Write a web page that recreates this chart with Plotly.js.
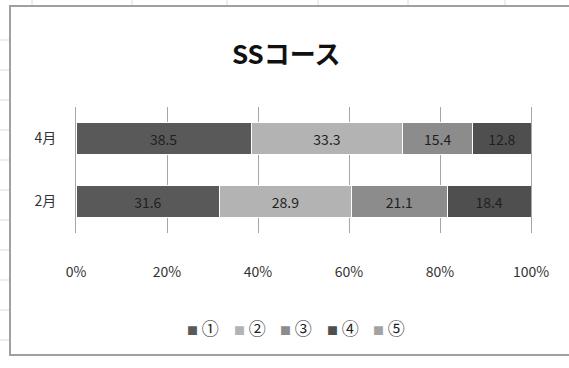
<!DOCTYPE html>
<html>
<head>
<meta charset="utf-8">
<script src="https://cdn.plot.ly/plotly-3.0.1.min.js"></script>
<style>
html,body{margin:0;padding:0;background:#fff;}
#chart{width:569px;height:368px;}
</style>
</head>
<body>
<div id="chart"></div>
<script>
const months = ['2月', '4月'];
const seriesNames = ['①', '②', '③', '④', '⑤'];
const s1 = [31.6, 38.5];
const s2 = [28.9, 33.3];
const s3 = [21.1, 15.4];
const s4 = [18.4, 12.8];
const s5 = [0, 0];
const xTicks = [0, 20, 40, 60, 80, 100];
const xTickLabels = ['0%', '20%', '40%', '60%', '80%', '100%'];
const colors = ['#595959', '#b3b3b3', '#8c8c8c', '#4f4f4f', '#a3a3a3'];

const FONT = '"Noto Sans CJK JP", "Noto Sans", sans-serif';
const allSeries = [s1, s2, s3, s4, s5];

const traces = allSeries.map((vals, i) => ({
  type: 'bar',
  orientation: 'h',
  name: seriesNames[i],
  y: months,
  x: vals,
  marker: {color: colors[i], line: {color: '#ffffff', width: 1}},
  text: vals.map(v => v > 0 ? v.toFixed(1) : ''),
  textposition: 'inside',
  insidetextanchor: 'middle',
  textfont: {family: FONT, size: 14, color: '#1f1f1f'},
  hoverinfo: 'x+y+name',
  showlegend: false
}));

// custom legend built from series names & colours
const legendX0 = 203, legendStep = 46.5, legendY = 327;
const plotL = 76, plotW = 455, plotT = 107, plotH = 126;
const annotations = seriesNames.map((n, i) => ({
  xref: 'paper', yref: 'paper',
  x: (legendX0 + i * legendStep - plotL) / plotW,
  y: (plotT + plotH - legendY) / plotH,
  xanchor: 'center', yanchor: 'middle',
  showarrow: false,
  text: '<span style="color:' + colors[i] + ';font-size:11px">■</span> ' + n,
  font: {family: FONT, size: 17, color: '#1f1f1f'}
}));

const shapes = [];
// chart border
shapes.push({type: 'rect', xref: 'paper', yref: 'paper',
  x0: (10 - plotL) / plotW, x1: (585 - plotL) / plotW,
  y0: (plotT + plotH - 355) / plotH, y1: (plotT + plotH - 6) / plotH,
  line: {color: '#a0a0a0', width: 2}, fillcolor: 'rgba(0,0,0,0)', layer: 'below'});
// faint spreadsheet grid outside the chart
[32, 132, 227, 318, 408, 505].forEach(px => shapes.push({type: 'line', xref: 'paper', yref: 'paper',
  x0: (px - plotL) / plotW, x1: (px - plotL) / plotW,
  y0: (plotT + plotH - 0) / plotH, y1: (plotT + plotH - 5) / plotH,
  line: {color: '#dcdcdc', width: 1}}));
[40, 70, 100, 130, 160, 190, 220, 250, 280, 310, 340].forEach(py => shapes.push({type: 'line', xref: 'paper', yref: 'paper',
  x0: (0 - plotL) / plotW, x1: (9 - plotL) / plotW,
  y0: (plotT + plotH - py) / plotH, y1: (plotT + plotH - py) / plotH,
  line: {color: '#dcdcdc', width: 1}}));

const layout = {
  width: 569, height: 368,
  margin: {l: plotL, r: 569 - plotL - plotW, t: plotT, b: 368 - plotT - plotH, pad: 0},
  paper_bgcolor: '#ffffff', plot_bgcolor: '#ffffff',
  barmode: 'stack',
  bargap: 0.48,
  showlegend: false,
  title: {text: '<b>SSコース</b>', x: 0.503, xanchor: 'center', xref: 'container',
    y: 1 - 55 / 368, yanchor: 'middle', yref: 'container',
    font: {family: FONT, size: 26, color: '#111111'}},
  xaxis: {range: [0, 100], tickvals: xTicks, ticktext: xTickLabels,
    showgrid: true, gridcolor: '#a6a6a6', gridwidth: 1, zeroline: false,
    showline: false, ticks: '', ticklabelstandoff: 29,
    tickfont: {family: FONT, size: 14, color: '#333333'}, fixedrange: true},
  yaxis: {type: 'category', categoryorder: 'array', categoryarray: months,
    range: [-0.5, 1.5], showgrid: false, zeroline: false,
    showline: true, mirror: true, linecolor: '#a6a6a6', linewidth: 1, ticks: '',
    ticklabelstandoff: 16,
    tickfont: {family: FONT, size: 14, color: '#333333'}, fixedrange: true},
  annotations: annotations,
  shapes: shapes,
  font: {family: FONT}
};

Plotly.newPlot('chart', traces, layout, {displayModeBar: false, staticPlot: true});
</script>
</body>
</html>
